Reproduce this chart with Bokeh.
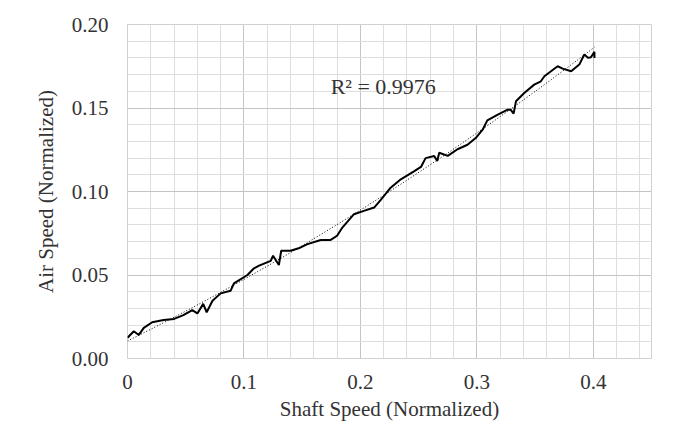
import numpy as np
from bokeh.plotting import figure
from bokeh.models import FixedTicker, NumeralTickFormatter, Label, Range1d
from bokeh.embed import file_html
from bokeh.resources import INLINE

# Data
shaft_speed = [0, 0.0054, 0.0097, 0.014, 0.0212, 0.031, 0.040, 0.048, 0.0556, 0.060,
               0.065, 0.068, 0.073, 0.080, 0.0886, 0.0914, 0.103, 0.1086, 0.113, 0.123,
               0.125, 0.130, 0.132, 0.140, 0.147, 0.1545, 0.166, 0.1745, 0.180, 0.1845,
               0.1945, 0.203, 0.2118, 0.2175, 0.226, 0.2347, 0.246, 0.252, 0.256, 0.2634,
               0.266, 0.2677, 0.275, 0.2834, 0.292, 0.299, 0.305, 0.309, 0.318, 0.3265,
               0.329, 0.3316, 0.3336, 0.3407, 0.3493, 0.355, 0.358, 0.3637, 0.3694, 0.3737,
               0.381, 0.388, 0.3923, 0.3957, 0.398, 0.401, 0.401]
air_speed = [0.0124, 0.0163, 0.0141, 0.0183, 0.0217, 0.023, 0.0237, 0.026, 0.029, 0.027,
             0.0327, 0.0277, 0.0346, 0.039, 0.0406, 0.045, 0.050, 0.054, 0.0556, 0.0585,
             0.0615, 0.056, 0.0645, 0.0645, 0.066, 0.0685, 0.071, 0.071, 0.0735, 0.0784,
             0.0864, 0.0884, 0.0904, 0.0950, 0.1023, 0.1073, 0.112, 0.1147, 0.120, 0.1213,
             0.1183, 0.1232, 0.1213, 0.1253, 0.128, 0.132, 0.137, 0.1426, 0.146, 0.149,
             0.149, 0.1466, 0.154, 0.159, 0.164, 0.166, 0.169, 0.172, 0.175, 0.1736,
             0.172, 0.176, 0.182, 0.180, 0.1804, 0.1836, 0.180]

x_major = [0, 0.1, 0.2, 0.3, 0.4]
x_minor = [round(0.02 * i, 2) for i in range(0, 23)]
y_major = [0.0, 0.05, 0.10, 0.15, 0.20]
y_minor = [round(0.01 * i, 2) for i in range(0, 21)]
r2_text = "R² = 0.9976"

FONT = "Liberation Serif"
TEXT = "#333333"
FS = "21px"

p = figure(width=675, height=427, output_backend="svg", toolbar_location=None,
           x_range=Range1d(0, 0.45), y_range=Range1d(0, 0.20),
           min_border_left=127, min_border_right=24, min_border_top=24, min_border_bottom=69)

p.outline_line_color = "#d0d0d0"
p.background_fill_color = "white"
p.border_fill_color = "white"

p.xaxis.ticker = FixedTicker(ticks=x_major, minor_ticks=x_minor)
p.yaxis.ticker = FixedTicker(ticks=y_major, minor_ticks=y_minor)
p.xaxis.major_label_overrides = {0: "0"}
p.yaxis.formatter = NumeralTickFormatter(format="0.00")

for ax in (p.xaxis, p.yaxis):
    ax.axis_line_color = None
    ax.major_tick_line_color = None
    ax.minor_tick_line_color = None
    ax.major_tick_out = 0
    ax.major_tick_in = 0
    ax.minor_tick_out = 0
    ax.minor_tick_in = 0
    ax.major_label_text_font = FONT
    ax.major_label_text_font_size = FS
    ax.major_label_text_color = TEXT
    ax.axis_label_text_font = FONT
    ax.axis_label_text_font_size = FS
    ax.axis_label_text_font_style = "normal"
    ax.axis_label_text_color = TEXT

p.xaxis.axis_label = "Shaft Speed (Normalized)"
p.yaxis.axis_label = "Air Speed (Normalized)"
p.xaxis.major_label_standoff = 16
p.yaxis.major_label_standoff = 19
p.xaxis.axis_label_standoff = 5
p.yaxis.axis_label_standoff = 11

for g in (p.xgrid, p.ygrid):
    g.grid_line_color = "#c4c4c4"
    g.grid_line_width = 1
    g.minor_grid_line_color = "#dedede"
    g.minor_grid_line_width = 1

# data line
p.line(shaft_speed, air_speed, line_color="black", line_width=2)

# polynomial (order 2) trendline fitted to the data
coef = np.polyfit(shaft_speed, air_speed, 2)
tx = np.linspace(min(shaft_speed), max(shaft_speed), 60)
p.line(tx, np.polyval(coef, tx), line_color="black", line_width=1, line_dash="1 2")

p.add_layout(Label(x=0.1745, y=0.163, text=r2_text, text_font=FONT, text_font_size="22px",
                   text_color=TEXT, text_baseline="middle", text_align="left"))

open("out.html", "w").write(file_html(p, INLINE))
